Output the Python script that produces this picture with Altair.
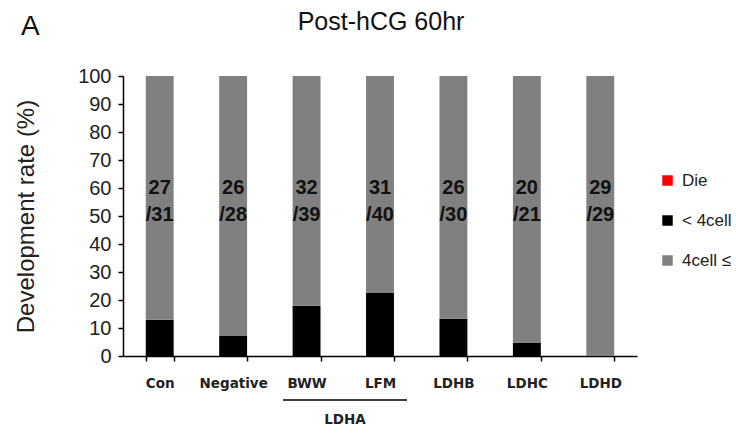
import altair as alt
import pandas as pd

categories = ["Con", "Negative", "BWW", "LFM", "LDHB", "LDHC", "LDHD"]
n_total = [31, 28, 39, 40, 30, 21, 29]
n_ge4 = [27, 26, 32, 31, 26, 20, 29]
n_die = [0, 0, 0, 0, 0, 0, 0]
series = ["Die", "< 4cell", "4cell \u2264"]
series_colors = ["#ff0000", "#000000", "#808080"]
stack_order = {"< 4cell": 0, "4cell \u2264": 1, "Die": 2}
y_ticks = [0, 10, 20, 30, 40, 50, 60, 70, 80, 90, 100]

rows = []
for c, n, k, d in zip(categories, n_total, n_ge4, n_die):
    rows.append({"cat": c, "series": "< 4cell", "val": (n - k - d) / n * 100})
    rows.append({"cat": c, "series": "4cell \u2264", "val": k / n * 100})
    rows.append({"cat": c, "series": "Die", "val": d / n * 100})
df = pd.DataFrame(rows)
df["ord"] = df["series"].map(stack_order)

labels = pd.DataFrame({
    "cat": categories,
    "label": [f"{k}\n/{n}" for k, n in zip(n_ge4, n_total)],
    "val": [60] * len(categories),
})

W, H = 514, 280

xscale = alt.Scale(domain=categories, paddingInner=0.62, paddingOuter=0.31)
yscale = alt.Scale(domain=[0, 100], nice=False)

x_axis = alt.Axis(labelAngle=0, tickBand="extent", labelFont="DejaVu Sans",
                  labelFontWeight="bold", labelFontSize=13.5, labelColor="#222222",
                  labelPadding=15, tickSize=5, domainColor="#000000",
                  tickColor="#000000", domainWidth=1.5, tickWidth=1.5)
y_axis = alt.Axis(values=y_ticks, grid=False, labelFont="Liberation Sans",
                  labelOverlap=False, labelFontSize=20, labelColor="#222222",
                  labelPadding=7, tickSize=5,
                  domainColor="#000000", tickColor="#000000", domainWidth=1.5,
                  tickWidth=1.5, titleFont="Liberation Sans", titleFontSize=24,
                  titleFontWeight="normal", titleColor="#222222", titlePadding=39)
y_title = "Development rate (%)"

bars = alt.Chart(df).mark_bar().encode(
    x=alt.X("cat:N", scale=xscale, sort=categories, title=None, axis=x_axis),
    y=alt.Y("val:Q", stack="zero", scale=yscale, title=y_title, axis=y_axis),
    color=alt.Color("series:N", scale=alt.Scale(domain=series, range=series_colors),
                    legend=alt.Legend(title=None, orient="none", legendX=536, legendY=96,
                                      symbolType="square", symbolSize=110, symbolStrokeWidth=0,
                                      labelFont="Liberation Sans", labelFontSize=17,
                                      labelColor="#222222", rowPadding=22, labelOffset=6)),
    order=alt.Order("ord:Q"),
)

text = alt.Chart(labels).mark_text(
    font="Liberation Sans", fontWeight="bold", fontSize=20, lineBreak="\n",
    lineHeight=27, baseline="middle", align="center", color="#111111"
).encode(
    x=alt.X("cat:N", scale=xscale, sort=categories, title=None, axis=x_axis),
    y=alt.Y("val:Q", scale=yscale, title=y_title, axis=y_axis),
    text="label:N",
)

annot = pd.DataFrame({"t": ["LDHA"]})
underline = alt.Chart(annot).mark_rule(color="#000000", strokeWidth=1.5).encode(
    x=alt.value(160), x2=alt.value(284), y=alt.value(324)
)
ldha = alt.Chart(annot).mark_text(
    font="DejaVu Sans", fontWeight="bold", fontSize=13.5, color="#222222", baseline="middle"
).encode(x=alt.value(222), y=alt.value(344), text="t:N")

panel = pd.DataFrame({"t": ["A"]})
panel_lbl = alt.Chart(panel).mark_text(
    font="Liberation Sans", fontSize=28, color="#111111", align="left", baseline="alphabetic"
).encode(x=alt.value(-102), y=alt.value(-41), text="t:N")

title_df = pd.DataFrame({"t": ["Post-hCG 60hr"]})
title_lbl = alt.Chart(title_df).mark_text(
    font="Liberation Sans", fontSize=25, color="#111111", align="center", baseline="alphabetic"
).encode(x=alt.value(258), y=alt.value(-46), text="t:N")

chart = alt.layer(bars, text, underline, ldha, panel_lbl, title_lbl).properties(
    width=W, height=H,
    background="white",
    autosize=alt.AutoSizeParams(type="none"),
    padding={"left": 123, "top": 76, "right": 99, "bottom": 77},
).configure_view(stroke=None)

chart.save("out.html", embed_options={"renderer": "svg", "actions": False})
